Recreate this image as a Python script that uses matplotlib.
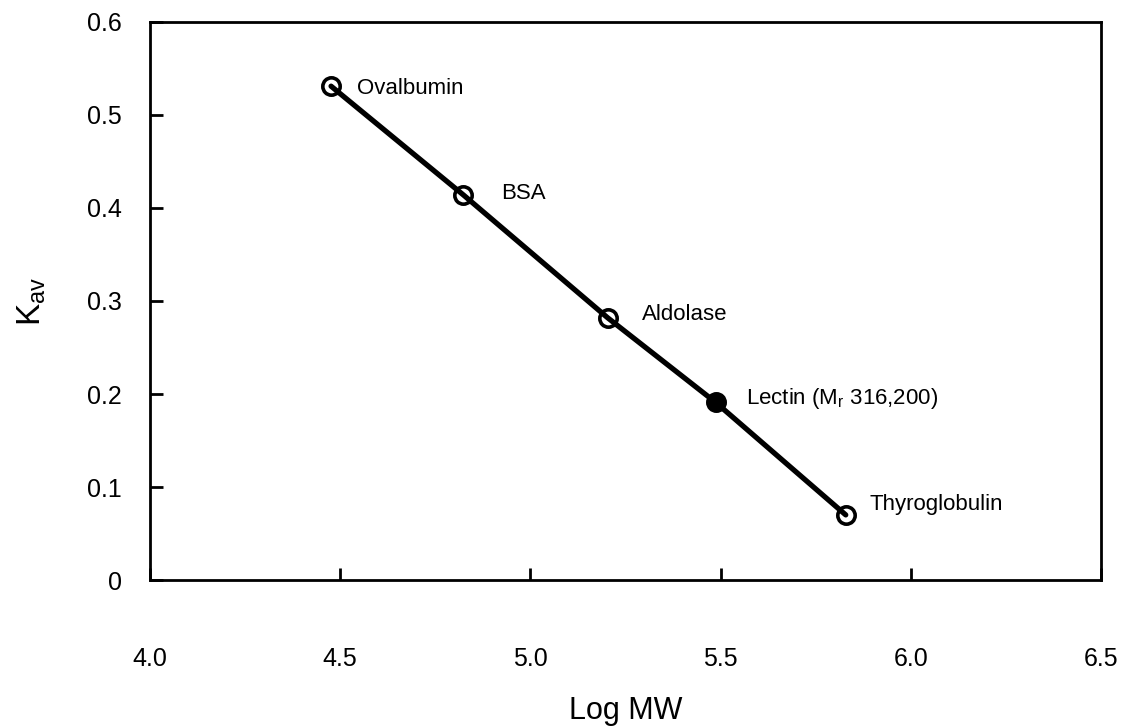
import matplotlib
matplotlib.use("Agg")
import matplotlib.pyplot as plt

plt.rcParams["font.family"] = ["Liberation Sans", "DejaVu Sans"]
plt.rcParams["mathtext.fontset"] = "custom"
plt.rcParams["mathtext.rm"] = "Liberation Sans"
plt.rcParams["mathtext.it"] = "Liberation Sans"

# calibration standards for the gel filtration column
proteins = ["Ovalbumin", "BSA", "Aldolase", "Lectin (M$_\\mathrm{r}$ 316,200)", "Thyroglobulin"]
log_mw = [4.476, 4.824, 5.203, 5.487, 5.829]
kav = [0.531, 0.414, 0.282, 0.191, 0.070]
is_sample = [False, False, False, True, False]

x_ticks = [4.0, 4.5, 5.0, 5.5, 6.0, 6.5]
y_ticks = [0, 0.1, 0.2, 0.3, 0.4, 0.5, 0.6]
y_tick_labels = ["0", "0.1", "0.2", "0.3", "0.4", "0.5", "0.6"]

# label offsets in points from each marker
label_dx = [19, 27, 25, 22, 17]
label_dy = [0, 3, 4, 5, 9]

fig = plt.figure(figsize=(11.32, 7.26), dpi=100)
ax = fig.add_axes([0.1325, 0.2011, 0.8401, 0.7686])

ax.plot(log_mw, kav, color="black", lw=3.8, solid_capstyle="round", zorder=2)
for x, y, s in zip(log_mw, kav, is_sample):
    ax.plot(x, y, "o", ms=12.5, mew=2.6, mec="black",
            mfc="black" if s else "none", zorder=3)

for name, x, y, dx, dy in zip(proteins, log_mw, kav, label_dx, label_dy):
    ax.annotate(name, (x, y), xytext=(dx, dy), textcoords="offset points",
                ha="left", va="center_baseline", fontsize=16)

ax.set_xlim(4.0, 6.5)
ax.set_ylim(0, 0.6)
ax.set_xticks(x_ticks)
ax.set_xticklabels([f"{t:.1f}" for t in x_ticks])
ax.set_yticks(y_ticks)
ax.set_yticklabels(y_tick_labels)

ax.tick_params(axis="x", direction="in", length=9, width=2, pad=48, labelsize=18)
ax.tick_params(axis="y", direction="in", length=9, width=2, pad=20, labelsize=18)
for sp in ax.spines.values():
    sp.set_linewidth(2)

ax.set_xlabel("Log MW", fontsize=22, labelpad=18)
ax.set_ylabel("K$_{\\mathrm{av}}$", fontsize=24, labelpad=28)

fig.savefig("out.png", dpi=100)
